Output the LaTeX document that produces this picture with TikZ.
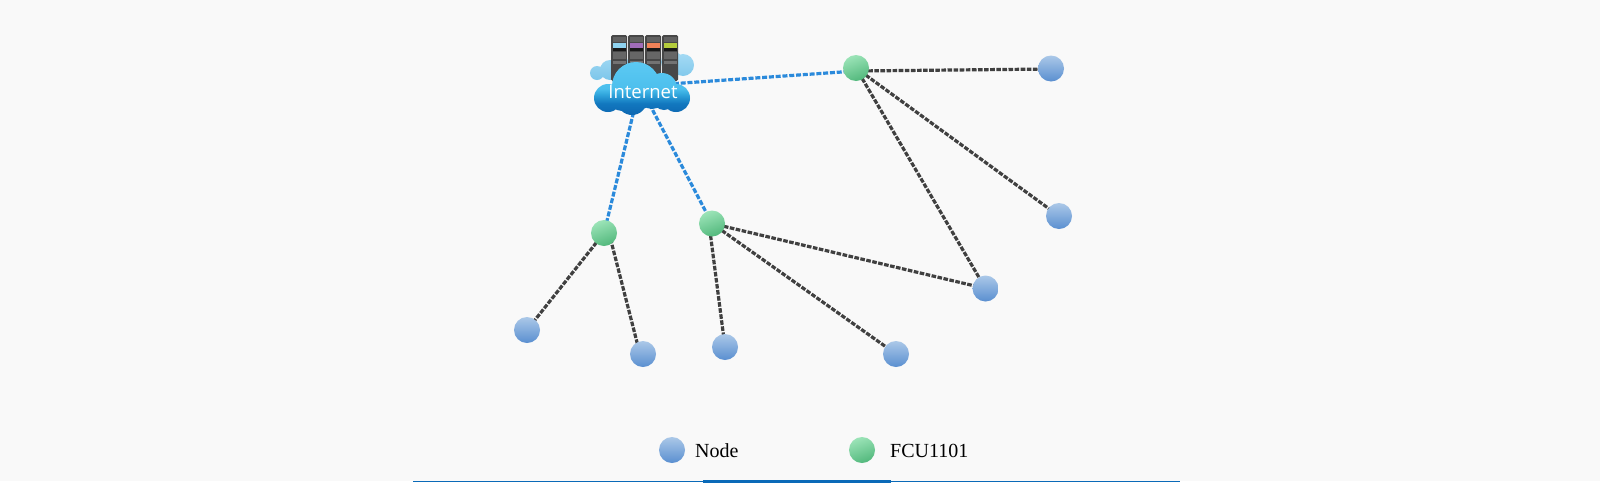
\documentclass[tikz,border=0pt]{standalone}
\usepackage{fontspec}
\setmainfont{Liberation Serif}
\newfontfamily\cloudfont{Open Sans}
\usetikzlibrary{backgrounds}
\definecolor{pagebg}{HTML}{F9F9F9}
\definecolor{linkblue}{HTML}{2B8ADB}
\definecolor{linkdark}{HTML}{404040}
\definecolor{rulecol}{HTML}{0A6AB8}
\definecolor{blueT}{HTML}{ABC8E8}
\definecolor{blueB}{HTML}{5A8FD0}
\definecolor{greenT}{HTML}{9CE4B8}
\definecolor{greenB}{HTML}{52B87C}
\definecolor{backT}{HTML}{A8DCF5}
\definecolor{backB}{HTML}{7CC6EA}
\pgfdeclareverticalshading{cloudshade}{100bp}{
  rgb(0bp)=(0.05,0.40,0.69);
  rgb(25bp)=(0.05,0.40,0.69);
  rgb(36bp)=(0.07,0.47,0.75);
  rgb(45bp)=(0.20,0.66,0.87);
  rgb(50bp)=(0.30,0.75,0.93);
  rgb(75bp)=(0.36,0.79,0.95);
  rgb(100bp)=(0.36,0.79,0.95)}
\tikzset{
  bluenode/.style={circle,minimum size=26pt,inner sep=0pt,shading=axis,shading angle=0,top color=blueT,bottom color=blueB},
  greennode/.style={circle,minimum size=26pt,inner sep=0pt,shading=axis,top color=greenT,bottom color=greenB,shading angle=20},
  darklink/.style={draw=linkdark,line width=3.2pt,dash pattern=on 4.6pt off 1.5pt},
  bluelink/.style={draw=linkblue,line width=3.2pt,dash pattern=on 5pt off 1.8pt},
  legendtext/.style={font=\fontsize{20}{22}\selectfont,anchor=west,inner sep=0pt,text=black},
  serverbody/.style={fill=black!72,rounded corners=1.5pt},
}
\begin{document}
\begin{tikzpicture}[x=1pt,y=-1pt]
\useasboundingbox (0,0) rectangle (1600,496);
\begin{scope}[on background layer]
  \fill[white] (0,0) rectangle (1600,496);
  \fill[pagebg] (0,0) rectangle (1600,481);
\end{scope}
% back clouds
\shade[top color=backT,bottom color=backB]
  (597,73) circle (7) (610,70) circle (10) (620,66) circle (10)
  (672,62) circle (11) (683,65) circle (11);
% servers
\foreach \sx/\sc in {611/8FD3F0,628/A06CB8,645/F08258,662/B4CC3C}{
  \definecolor{tmpc}{HTML}{\sc}
  \fill[serverbody] (\sx,35) rectangle ++(16,46);
  \fill[black!62] (\sx+1.5,37) rectangle ++(13,5);
  \fill[tmpc] (\sx+1.5,43) rectangle ++(13,4.5);
  \fill[black!90] (\sx+1.5,48) rectangle ++(13,3);
  \fill[black!60] (\sx+1.5,52) rectangle ++(13,6.5);
  \fill[black!55] (\sx+1.5,61) rectangle ++(13,3);
}
% front cloud
\shade[shading=cloudshade]
  (636,86) circle (24) (662,88) circle (15)
  (608,98) circle (14) (676,98) circle (14)
  (632,100) circle (15) (622,98) circle (13)
  (652,96) circle (13) (664,99) circle (11);
\node[font=\cloudfont\fontsize{18.5}{20}\selectfont,text=white,inner sep=0pt] at (643,92) {Internet};
\coordinate (internet) at (640,86);
% nodes
\node[greennode] (g1) at (856,68) {};
\node[greennode] (g2) at (604,233) {};
\node[greennode] (g3) at (712,223.5) {};
\node[bluenode] (b1) at (1051,68.5) {};
\node[bluenode] (b2) at (1059,216) {};
\node[bluenode] (b3) at (985.5,288.5) {};
\node[bluenode] (b4) at (896,354) {};
\node[bluenode] (b5) at (725,347) {};
\node[bluenode] (b6) at (643,354) {};
\node[bluenode] (b7) at (527,330) {};
% legend
\node[bluenode] (lb) at (672,450) {};
\node[greennode] (lg) at (862,450) {};
\node[legendtext] (lbt) at (695,451) {Node};
\node[legendtext] (lgt) at (890,451) {FCU1101};
\begin{scope}[on background layer]
  \draw[bluelink] (internet) -- ([yshift=-3pt]g1.center);
  \draw[bluelink] (internet) -- (g2.center);
  \draw[bluelink] (internet) -- (g3.center);
  \draw[darklink] ([yshift=-3pt]g1.center) -- ([yshift=-0.5pt]b1.center);
  \draw[darklink] (g1.center) -- (b2.center);
  \draw[darklink] (g1.center) -- (b3.center);
  \draw[darklink] (g3.center) -- (b3.center);
  \draw[darklink] (g3.center) -- (b4.center);
  \draw[darklink] ([xshift=-3pt]g3.center) -- (b5.center);
  \draw[darklink] ([xshift=5pt]g2.center) -- ([xshift=-3pt]b6.center);
  \draw[darklink] (g2.center) -- (b7.center);
\end{scope}
% bottom rule
\draw[rulecol,line width=1.2pt] (413,481.3) -- (1180,481.3);
\fill[rulecol] (703,479.8) rectangle (891,482.8);
\end{tikzpicture}
\end{document}
